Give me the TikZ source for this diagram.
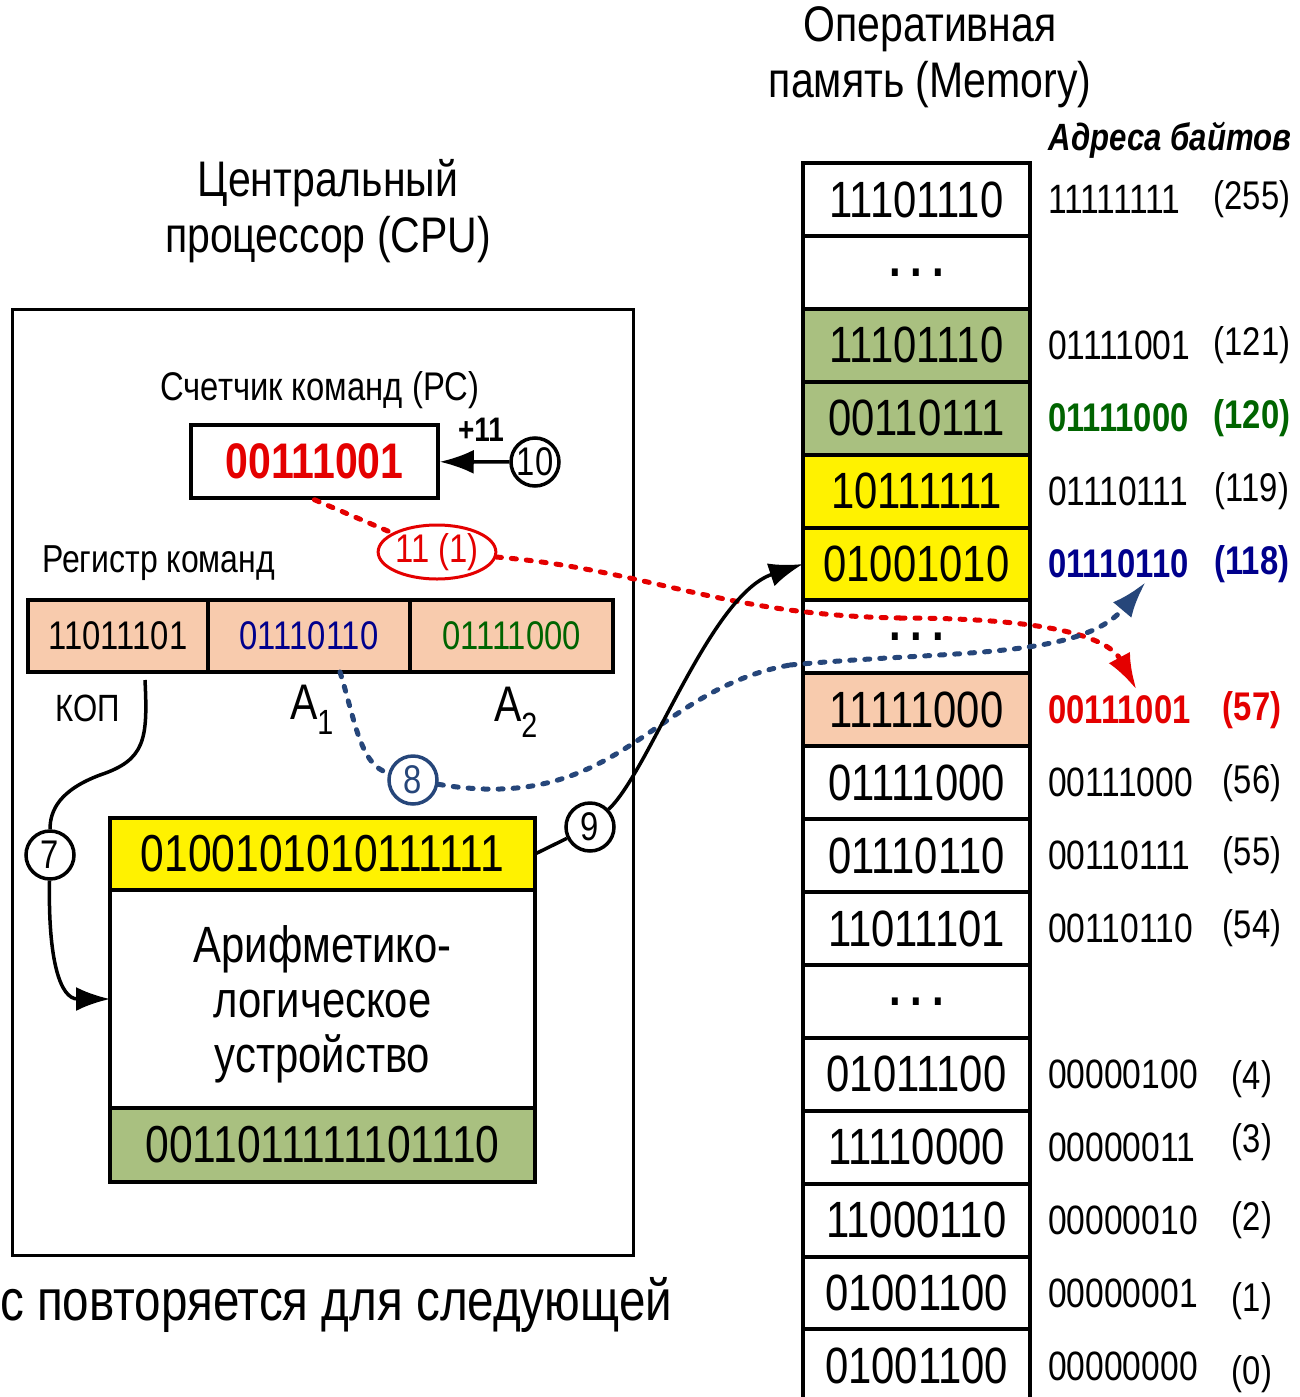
\documentclass[tikz,border=0pt]{standalone}
\usepackage{fontspec}
\setmainfont{Liberation Sans}[FakeStretch=0.82]
\usetikzlibrary{shapes.geometric, arrows.meta, positioning}

\definecolor{cellgreen}{RGB}{169,192,128}
\definecolor{cellpeach}{RGB}{248,203,173}
\definecolor{txtnavy}{RGB}{0,0,140}
\definecolor{txtgreen}{RGB}{0,100,0}
\definecolor{txtred}{RGB}{228,0,0}
\definecolor{dashblue}{RGB}{38,70,122}

\newcommand{\fsz}[1]{\fontsize{#1}{#1}\selectfont}
\newcommand{\mdots}{\textbf{.\hspace{10pt}.\hspace{10pt}.}}

\begin{document}
\begin{tikzpicture}[x=1pt, y=-1pt,
title/.style={align=center, font=\fontsize{50}{56}\selectfont},
memcell/.style={rectangle, draw, line width=4pt, minimum width=227pt,
minimum height=72.9pt, inner sep=0pt, outer sep=0pt, node distance=72.9pt,
font=\fsz{51}},
memcell-green/.style={memcell, fill=cellgreen},
memcell-yellow/.style={memcell, fill=yellow},
memcell-peach/.style={memcell, fill=cellpeach},
addr/.style={inner sep=0pt, font=\fsz{41}},
dec/.style={inner sep=0pt, font=\fsz{40}},
regcell/.style={rectangle, draw, line width=3.5pt, fill=cellpeach,
minimum height=72pt, inner sep=0pt, outer sep=0pt, font=\fsz{40}},
alucell/.style={rectangle, draw, line width=4pt, minimum width=425pt,
inner sep=0pt, outer sep=0pt, font=\fsz{52}},
num/.style={circle, draw, line width=3.5pt, minimum size=48pt, inner sep=0pt,
font=\fsz{40}},
wire/.style={draw, line width=3.5pt},
wire-arrow/.style={wire, -{Latex[length=34pt,width=24pt]}},
reddash/.style={draw=txtred, line width=5pt, line cap=round,
dash pattern=on 5pt off 10pt},
bluedash/.style={draw=dashblue, line width=5pt, line cap=round,
dash pattern=on 5pt off 10pt}
]
\useasboundingbox (0,0) rectangle (1299,1397);

% titles
\node [title] (memtitle) at (930,57) {Оперативная\\память (Memory)};
\node [font=\bfseries\itshape\fsz{38}, inner sep=0pt] (addrtitle) at (1170,140) {Адреса байтов};
\node [title] (cputitle) at (328,211) {Центральный\\процессор (CPU)};

% memory column
\node [memcell] (m1) at (916.5,199.5) {11101110};
\node [memcell, below of=m1] (m2) {\mdots};
\node [memcell-green, below of=m2] (m3) {11101110};
\node [memcell-green, below of=m3] (m4) {00110111};
\node [memcell-yellow, below of=m4] (m5) {10111111};
\node [memcell-yellow, below of=m5] (m6) {01001010};
\node [memcell, below of=m6] (m7) {\mdots};
\node [memcell-peach, below of=m7] (m8) {11111000};
\node [memcell, below of=m8] (m9) {01111000};
\node [memcell, below of=m9] (m10) {01110110};
\node [memcell, below of=m10] (m11) {11011101};
\node [memcell, below of=m11] (m12) {\mdots};
\node [memcell, below of=m12] (m13) {01011100};
\node [memcell, below of=m13] (m14) {11110000};
\node [memcell, below of=m14] (m15) {11000110};
\node [memcell, below of=m15] (m16) {01001100};
\node [memcell, below of=m16] (m17) {01001100};

% byte addresses
\coordinate (dcol) at (1252,0);
\node [addr, right=18pt of m1.east] (a1) {11111111};
\node [dec] (d1) at (a1 -| dcol) {(255)};
\node [addr, right=18pt of m3.east] (a3) {01111001};
\node [dec] (d3) at (a3 -| dcol) {(121)};
\node [addr, right=18pt of m4.east, text=txtgreen, font=\bfseries\fsz{40}] (a4) {01111000};
\node [dec, text=txtgreen, font=\bfseries\fsz{40}] (d4) at (a4 -| dcol) {(120)};
\node [addr, right=18pt of m5.east] (a5) {01110111};
\node [dec] (d5) at (a5 -| dcol) {(119)};
\node [addr, right=18pt of m6.east, text=txtnavy, font=\bfseries\fsz{40}] (a6) {01110110};
\node [dec, text=txtnavy, font=\bfseries\fsz{40}] (d6) at (a6 -| dcol) {(118)};
\node [addr, right=18pt of m8.east, text=txtred, font=\bfseries\fsz{40}] (a8) {00111001};
\node [dec, text=txtred, font=\bfseries\fsz{40}] (d8) at (a8 -| dcol) {(57)};
\node [addr, right=18pt of m9.east] (a9) {00111000};
\node [dec] (d9) at (a9 -| dcol) {(56)};
\node [addr, right=18pt of m10.east] (a10) {00110111};
\node [dec] (d10) at (a10 -| dcol) {(55)};
\node [addr, right=18pt of m11.east] (a11) {00110110};
\node [dec] (d11) at (a11 -| dcol) {(54)};
\node [addr, right=18pt of m13.east] (a13) {00000100};
\node [dec, yshift=-5pt] (d13) at (a13 -| dcol) {(4)};
\node [addr, right=18pt of m14.east] (a14) {00000011};
\node [dec, yshift=5pt] (d14) at (a14 -| dcol) {(3)};
\node [addr, right=18pt of m15.east] (a15) {00000010};
\node [dec] (d15) at (a15 -| dcol) {(2)};
\node [addr, right=18pt of m16.east] (a16) {00000001};
\node [dec, yshift=-8pt] (d16) at (a16 -| dcol) {(1)};
\node [addr, right=18pt of m17.east] (a17) {00000000};
\node [dec, yshift=-8pt] (d17) at (a17 -| dcol) {(0)};

% processor
\node [draw, line width=3pt, minimum width=621pt, minimum height=946pt,
inner sep=0pt] (cpu) at (322.5,782) {};
\node [font=\fsz{40}] (pclabel) at (320,390) {Счетчик команд (PC)};
\node [draw, line width=3.5pt, minimum width=247pt, minimum height=73pt,
inner sep=0pt, text=txtred, font=\bfseries\fsz{50}] (pc) at (314.5,461.5) {00111001};
\node [font=\bfseries\fsz{34}] (plus) at (481,430) {+11};
\node [num] (c10) at (535,462) {10};

\node [font=\fsz{39}, anchor=west, inner sep=0pt] (reglabel) at (42,563) {Регистр команд};
\node [regcell, minimum width=180pt] (r1) at (118,636) {11011101};
\node [regcell, minimum width=202pt, right=0pt of r1, text=txtnavy] (r2) {01110110};
\node [regcell, minimum width=203pt, right=0pt of r2, text=txtgreen] (r3) {01111000};
\node [font=\fsz{38}] (kop) at (88,708) {КОП};
\node [font=\fsz{50}] (adr1) at (312,710) {A\textsubscript{1}};
\node [font=\fsz{50}] (adr2) at (516,712) {A\textsubscript{2}};

\node [ellipse, draw=txtred, line width=3pt, minimum width=116pt,
minimum height=54pt, inner sep=0pt, text=txtred, font=\fsz{40}] (ell) at (437,552) {11 (1)};
\node [num, draw=dashblue, text=dashblue] (c8) at (413,780) {8};
\node [num] (c7) at (50,855) {7};
\node [num] (c9) at (590,827) {9};

% arithmetic logic unit
\node [alucell, fill=yellow, minimum height=72pt] (alu1) at (322.5,854) {0100101010111111};
\node [alucell, minimum height=218pt, below=0pt of alu1, align=center,
font=\fontsize{51}{55}\selectfont, text depth=0pt] (alu2) {Арифметико-\\логическое\\устройство};
\node [alucell, fill=cellgreen, minimum height=74pt, below=0pt of alu2] (alu3) {0011011111101110};

\node [font=\fsz{58}, anchor=west, inner sep=0pt] (note) at (0,1305) {с повторяется для следующей};

% connectors
\path [wire-arrow] (c10) -- (pc);
\path [reddash] (pc.south) -- (ell);
\coordinate (rmid) at (900,618);
\path [reddash] (ell) .. controls (650,570) and (720,615) .. (rmid);
\path [reddash, -{Latex[length=36pt,width=24pt]}] (rmid) .. controls (1060,618)
and (1110,640) .. ([xshift=17pt,yshift=6pt]a8.north);
\path [bluedash] ([xshift=31pt]r2.south) .. controls (355,720) and (360,765) .. (c8);
\coordinate (bmid) at (790,665);
\path [bluedash] (c8) .. controls (620,815) and (650,690) .. (bmid);
\path [bluedash, -{Latex[length=36pt,width=24pt]}] (bmid) .. controls (950,650)
and (1080,660) .. ([xshift=27pt,yshift=-4pt]a6.south);
\path [wire] ([xshift=27pt,yshift=-8pt]r1.south) .. controls (148,740) and (145,760)
.. (100,775) .. controls (60,790) and (50,810) .. (c7);
\path [wire-arrow] (c7) .. controls (48,960) and (60,999) .. (alu2.west);
\path [wire] (alu1.east) -- (c9);
\path [wire-arrow] (c9) .. controls (650,770) and (710,595) .. (m6.west);
\end{tikzpicture}
\end{document}
